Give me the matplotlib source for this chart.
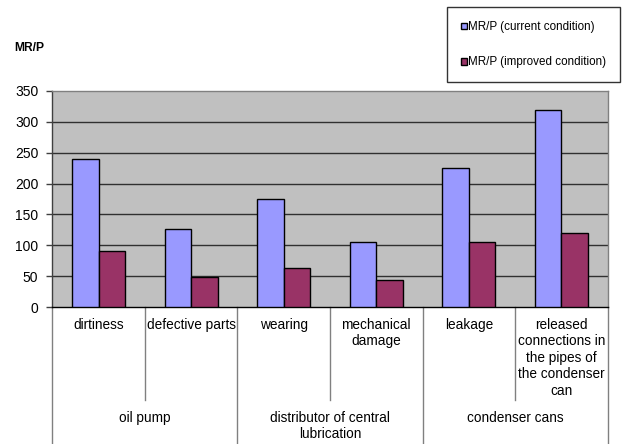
import matplotlib.pyplot as plt
import matplotlib.transforms as mtransforms
import numpy as np

plt.rcParams['font.family'] = ['Liberation Sans', 'DejaVu Sans']

faults = ['dirtiness', 'defective parts', 'wearing', 'mechanical\ndamage',
          'leakage', 'released\nconnections in\nthe pipes of\nthe condenser\ncan']
units = ['oil pump', 'distributor of central\nlubrication', 'condenser cans']
current = [240, 126, 175, 105, 225, 320]
improved = [90, 48, 63, 43, 105, 120]
series_names = ['MR/P (current condition)', 'MR/P (improved condition)']
yticks = [0, 50, 100, 150, 200, 250, 300, 350]

W, H = 627, 444
fig = plt.figure(figsize=(W / 100, H / 100), dpi=100)
ax = fig.add_axes([52.3 / W, 1 - 307 / H, (607.7 - 52.3) / W, (307 - 91) / H])

x = np.arange(len(faults))
bw = 0.286
ax.set_facecolor('#c0c0c0')
ax.bar(x - bw / 2, current, bw, color='#9999ff', edgecolor='black', lw=1,
       label=series_names[0], zorder=3)
ax.bar(x + bw / 2, improved, bw, color='#993366', edgecolor='black', lw=1,
       label=series_names[1], zorder=3)

ax.set_xlim(-0.5, len(faults) - 0.5)
ax.set_ylim(0, 350)
ax.set_yticks(yticks)
ax.set_xticks([])
ax.tick_params(axis='y', length=4, width=1, color='#404040', pad=6, labelsize=10)
for v in yticks[1:-1]:
    ax.axhline(v, color='#303030', lw=1, zorder=1)

for side in ['top', 'right']:
    ax.spines[side].set_color('#808080')
ax.spines['left'].set_color('#404040')
ax.spines['bottom'].set_color('black')
for s in ax.spines.values():
    s.set_linewidth(1)

# two-level category axis below the plot
trans = mtransforms.blended_transform_factory(ax.transData, fig.transFigure)
y_axis = 1 - 307 / H
for b in np.arange(-0.5, len(faults), 1.0):
    long_line = int(b + 0.5) % 2 == 0
    y_end = 0 if long_line else 1 - 400 / H
    ax.plot([b, b], [y_axis, y_end], transform=trans, color='#808080',
            lw=1, clip_on=False)

for i, name in enumerate(faults):
    fig.text(i, 1 - 318 / H, name, transform=trans, ha='center', va='top',
             fontsize=9.8, linespacing=1.22, multialignment='center')
for j, name in enumerate(units):
    fig.text(2 * j + 0.5, 1 - 411 / H, name, transform=trans, ha='center',
             va='top', fontsize=9.8, linespacing=1.22, multialignment='center')

fig.text(14 / W, 1 - 48 / H, 'MR/P', fontsize=8.7, fontweight='bold',
         ha='left', va='center')

leg = fig.legend(loc='upper left', bbox_to_anchor=(447 / W, 1 - 7 / H),
                 fontsize=8.4, frameon=True, fancybox=False, edgecolor='black',
                 borderpad=1.2, labelspacing=2.0, handlelength=0.5,
                 handleheight=0.5, handletextpad=0.1, borderaxespad=0)
leg.get_frame().set_linewidth(1)

fig.savefig('out.png', dpi=100)
